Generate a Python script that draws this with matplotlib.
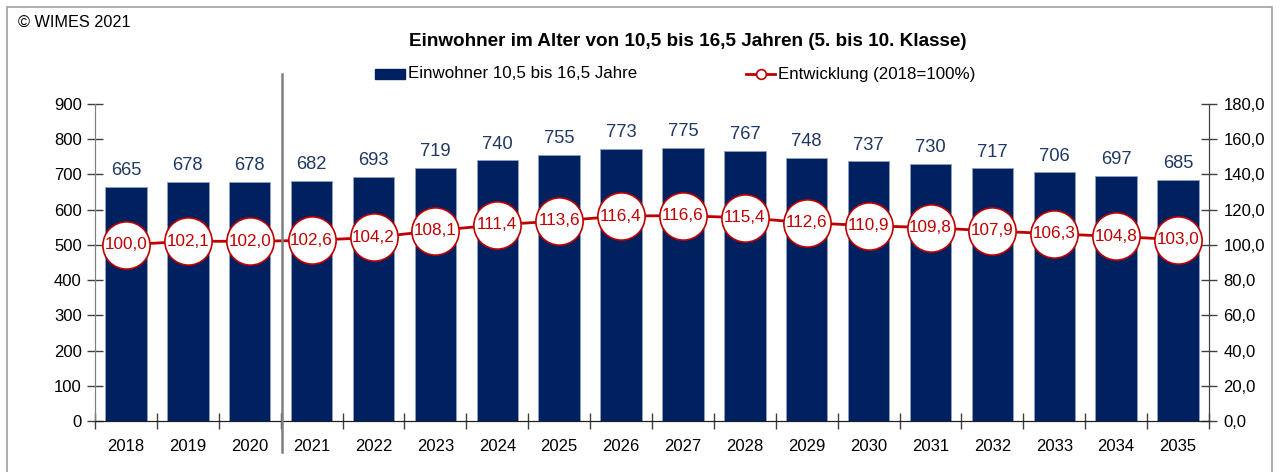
import matplotlib
matplotlib.use("Agg")
import matplotlib.pyplot as plt
from matplotlib.lines import Line2D
from matplotlib.patches import Rectangle
from matplotlib.ticker import FuncFormatter, MultipleLocator, FixedLocator
import numpy as np

years = ["2018", "2019", "2020", "2021", "2022", "2023", "2024", "2025", "2026",
         "2027", "2028", "2029", "2030", "2031", "2032", "2033", "2034", "2035"]
einwohner = [665, 678, 678, 682, 693, 719, 740, 755, 773, 775, 767, 748, 737,
             730, 717, 706, 697, 685]
entwicklung = [100.0, 102.1, 102.0, 102.6, 104.2, 108.1, 111.4, 113.6, 116.4,
               116.6, 115.4, 112.6, 110.9, 109.8, 107.9, 106.3, 104.8, 103.0]

BAR_COLOR = "#002060"
LINE_COLOR = "#C00000"
LABEL_BLUE = "#1F3864"
FONT = "Liberation Sans"

plt.rcParams["font.family"] = [FONT, "DejaVu Sans"]

W, H = 1280, 472
fig = plt.figure(figsize=(W / 100, H / 100), dpi=100)

def fx(px):
    return px / W

def fy(py):
    return 1 - py / H

def comma(v):
    return f"{v:.1f}".replace(".", ",")

# outer frame
fig.add_artist(Rectangle((fx(7), fy(480)), fx(1272) - fx(7), fy(7) - fy(480),
                         transform=fig.transFigure, fill=False,
                         edgecolor="#A0A0A0", linewidth=1.2))

left, right, top, bottom = 95, 1209, 104, 421
ax = fig.add_axes([fx(left), fy(bottom), fx(right) - fx(left), fy(top) - fy(bottom)])
ax2 = ax.twinx()

x = np.arange(len(years))
ax.bar(x, einwohner, width=0.67, color=BAR_COLOR, edgecolor="#8FA0C0",
       linewidth=0.6, zorder=2)
for xi, v in zip(x, einwohner):
    ax.text(xi, v + 22, f"{v}", ha="center", va="bottom", fontsize=13.2,
            color=LABEL_BLUE)

ax.set_xlim(-0.5, len(years) - 0.5)
ax.set_ylim(0, 900)
ax.yaxis.set_major_locator(MultipleLocator(100))
ax.set_xticks(x)
ax.set_xticklabels(years)
ax.xaxis.set_minor_locator(FixedLocator(np.arange(-0.5, len(years), 1.0)))
ax.tick_params(axis="x", which="major", length=0, pad=13, labelsize=12)
ax.tick_params(axis="x", which="minor", length=12, direction="inout", width=1,
               color="#404040")
ax.tick_params(axis="y", which="major", length=11, direction="inout", width=1,
               labelsize=12, pad=4, color="#404040")

ax2.set_ylim(0, 180)
ax2.yaxis.set_major_locator(MultipleLocator(20))
ax2.yaxis.set_major_formatter(FuncFormatter(lambda v, p: comma(v)))
ax2.tick_params(axis="y", length=11, direction="inout", width=1, labelsize=12,
                pad=5, color="#404040")

for a in (ax, ax2):
    a.spines["top"].set_visible(False)
    a.spines["left"].set_color("#808080")
    a.spines["right"].set_color("#404040")
    a.spines["bottom"].set_color("#202020")
    a.set_facecolor("none")

ax2.plot(x, entwicklung, color=LINE_COLOR, linewidth=2, marker="o",
         markersize=34, markerfacecolor="white", markeredgecolor=LINE_COLOR,
         markeredgewidth=1.2, zorder=3)
for xi, v in zip(x, entwicklung):
    ax2.text(xi, v, comma(v), ha="center", va="center",
             fontsize=12.3, color=LINE_COLOR, zorder=4)

# separator between observed and forecast years
fig.add_artist(Line2D([fx(282), fx(282)], [fy(452), fy(74)],
                      transform=fig.transFigure, color="#808080", linewidth=1.8))

fig.text(fx(18), fy(22), "© WIMES 2021", fontsize=11.7, va="center", ha="left")
fig.text(fx(688), fy(42), "Einwohner im Alter von 10,5 bis 16,5 Jahren (5. bis 10. Klasse)",
         fontsize=13.6, fontweight="bold", ha="center", va="center")

# legend
fig.add_artist(Rectangle((fx(375), fy(79)), fx(30), fy(69) - fy(79),
                         transform=fig.transFigure, color=BAR_COLOR))
fig.text(fx(408), fy(74), "Einwohner 10,5 bis 16,5 Jahre", fontsize=12.2,
         ha="left", va="center")
fig.add_artist(Line2D([fx(746), fx(775)], [fy(74), fy(74)],
                      transform=fig.transFigure, color=LINE_COLOR, linewidth=2,
                      zorder=3))
fig.add_artist(Line2D([fx(760.5)], [fy(74)], transform=fig.transFigure,
                      linestyle="none", marker="o", markersize=7,
                      markerfacecolor="white", markeredgecolor=LINE_COLOR,
                      markeredgewidth=1.2, zorder=4))
fig.text(fx(778), fy(74), "Entwicklung (2018=100%)", fontsize=12.2,
         ha="left", va="center")

fig.savefig("out.png", dpi=100)
